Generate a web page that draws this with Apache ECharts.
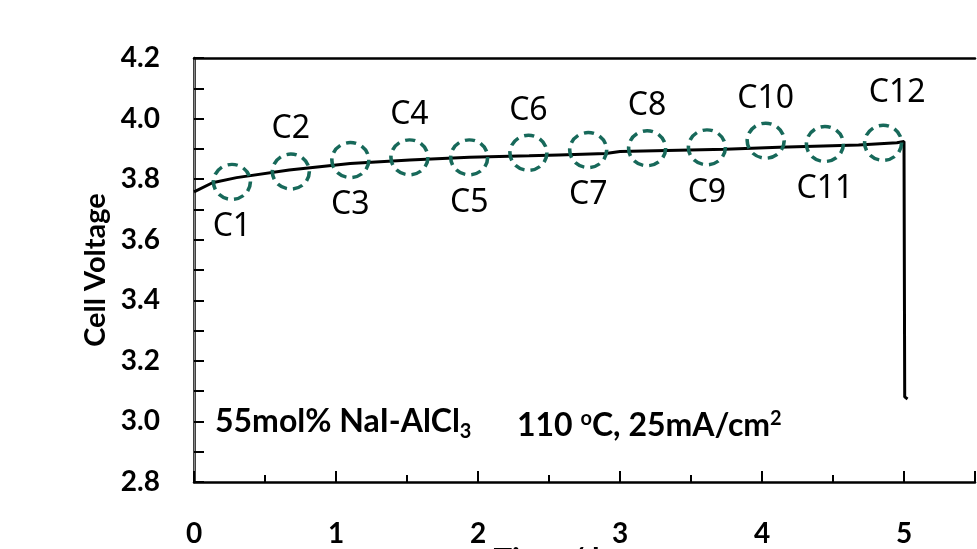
<!DOCTYPE html>
<html>
<head>
<meta charset="utf-8">
<script src="https://cdn.jsdelivr.net/npm/echarts@6/dist/echarts.min.js"></script>
<style>
  html, body { margin: 0; padding: 0; background: #fff; }
  #chart { width: 977px; height: 549px; }
</style>
</head>
<body>
<div id="chart"></div>
<script>
// discharge curve, time (h) vs cell voltage (V)
var curveTime = [0, 0.13, 0.3, 0.67, 1.1, 1.52, 1.94, 2.36, 2.57, 2.9, 3.0, 3.74, 4.12, 4.68, 4.95, 5.0, 5.005, 5.025];
var curveVolt = [3.758, 3.788, 3.805, 3.83, 3.852, 3.863, 3.872, 3.877, 3.88, 3.885, 3.891, 3.899, 3.905, 3.913, 3.92, 3.924, 3.081, 3.074];

// cycle markers C1..C12
var cycleNames = ['C1', 'C2', 'C3', 'C4', 'C5', 'C6', 'C7', 'C8', 'C9', 'C10', 'C11', 'C12'];
var cycleTime = [0.267, 0.682, 1.101, 1.517, 1.938, 2.355, 2.776, 3.191, 3.612, 4.026, 4.443, 4.853];
var cycleVolt = [3.791, 3.825, 3.863, 3.872, 3.872, 3.887, 3.896, 3.902, 3.905, 3.927, 3.916, 3.92];

var xTicks = [0, 1, 2, 3, 4, 5];
var yTicks = ['2.8', '3.0', '3.2', '3.4', '3.6', '3.8', '4.0', '4.2'];

var boldFont = 'Lato';
var green = '#17695a';

var curveData = curveTime.map(function(t, i) { return [t, curveVolt[i]]; });
var cycleData = cycleNames.map(function(n, i) {
  var below = i % 2 === 0;
  var item = {
    name: n,
    value: [cycleTime[i], cycleVolt[i]],
    label: { position: below ? 'bottom' : 'top', distance: below ? 10 : 7 }
  };
  // last label sits a bit to the right in the original
  if (i === cycleNames.length - 1) item.label.offset = [14, -8];
  return item;
});

var chart = echarts.init(document.getElementById('chart'));

chart.setOption({
  animation: false,
  grid: { left: 194, right: 2, top: 58, bottom: 67, outerBoundsMode: 'none', containLabel: false },
  xAxis: [
    {
      type: 'value', min: 0, max: 5.5, interval: 1, position: 'bottom',
      name: 'Time / h', nameLocation: 'middle', nameGap: 62, nameMoveOverlap: false,
      nameTextStyle: { fontFamily: boldFont, fontWeight: 'bold', fontSize: 31, color: '#000', verticalAlign: 'top', padding: [0, 66, 0, 0] },
      axisLine: { lineStyle: { color: '#000', width: 2.5 } },
      axisTick: { inside: true, length: 11, lineStyle: { color: '#000', width: 2 } },
      axisLabel: {
        margin: 38, fontFamily: boldFont, fontWeight: 'bold', fontSize: 28, color: '#000',
        formatter: function(v) { return xTicks.indexOf(v) >= 0 ? String(v) : ''; }
      },
      splitLine: { show: false }
    },
    {
      type: 'value', min: 0, max: 5.5, interval: 0.5, position: 'bottom',
      axisLine: { show: false },
      axisTick: { inside: true, length: 7, lineStyle: { color: '#000', width: 2 } },
      axisLabel: { show: false },
      splitLine: { show: false }
    },
    {
      type: 'value', min: 0, max: 5.5, position: 'top',
      axisLine: { lineStyle: { color: '#000', width: 2.5 } },
      axisTick: { show: false }, axisLabel: { show: false }, splitLine: { show: false }
    }
  ],
  yAxis: [
    {
      type: 'value', min: 2.8, max: 4.2, interval: 0.2,
      name: 'Cell Voltage', nameLocation: 'middle', nameGap: 84,
      nameTextStyle: { fontFamily: boldFont, fontWeight: 'bold', fontSize: 29, color: '#000' },
      axisLine: { show: true, lineStyle: { color: '#000', width: 2.5 } },
      axisTick: { inside: true, length: 10, lineStyle: { color: '#000', width: 2 } },
      minorTick: { show: true, splitNumber: 2, length: 10, lineStyle: { color: '#000', width: 2 } },
      axisLabel: {
        margin: 34, fontFamily: boldFont, fontWeight: 'bold', fontSize: 28, color: '#000',
        formatter: function(v) { return yTicks[Math.round((v - 2.8) / 0.2)]; }
      },
      splitLine: { show: false }
    },
    {
      type: 'value', min: 2.8, max: 4.2, position: 'right',
      axisLine: { show: true, lineStyle: { color: '#888', width: 1 } },
      axisTick: { show: false }, axisLabel: { show: false }, splitLine: { show: false }
    }
  ],
  series: [
    {
      type: 'line',
      data: curveData,
      showSymbol: false,
      lineStyle: { color: '#000', width: 3 },
      z: 3
    },
    {
      type: 'scatter',
      data: cycleData,
      symbol: 'circle',
      symbolSize: [37, 35],
      itemStyle: {
        color: 'rgba(0,0,0,0)',
        borderColor: green,
        borderWidth: 3.5,
        borderType: [10, 6],
        opacity: 1
      },
      label: {
        show: true,
        formatter: '{b}',
        fontFamily: 'Noto Sans',
        fontSize: 32,
        color: '#000',
        textBorderWidth: 0
      },
      z: 4
    }
  ],
  graphic: [
    {
      type: 'text', left: 215, top: 406,
      style: {
        text: '{m|55mol% NaI-AlCl}{s|3}',
        rich: {
          m: { fontFamily: boldFont, fontWeight: 'bold', fontSize: 32, lineHeight: 40, verticalAlign: 'middle', fill: '#000' },
          s: { fontFamily: boldFont, fontWeight: 'bold', fontSize: 20, lineHeight: 40, verticalAlign: 'bottom', fill: '#000' }
        }
      }
    },
    {
      type: 'text', left: 517, top: 406,
      style: {
        text: '{m|110 }{p|o}{m|C, 25mA/cm}{p|2}',
        rich: {
          m: { fontFamily: boldFont, fontWeight: 'bold', fontSize: 32, lineHeight: 40, verticalAlign: 'middle', fill: '#000' },
          p: { fontFamily: boldFont, fontWeight: 'bold', fontSize: 20, lineHeight: 40, verticalAlign: 'top', padding: [3, 0, 0, 0], fill: '#000' }
        }
      }
    }
  ]
});
</script>
</body>
</html>
